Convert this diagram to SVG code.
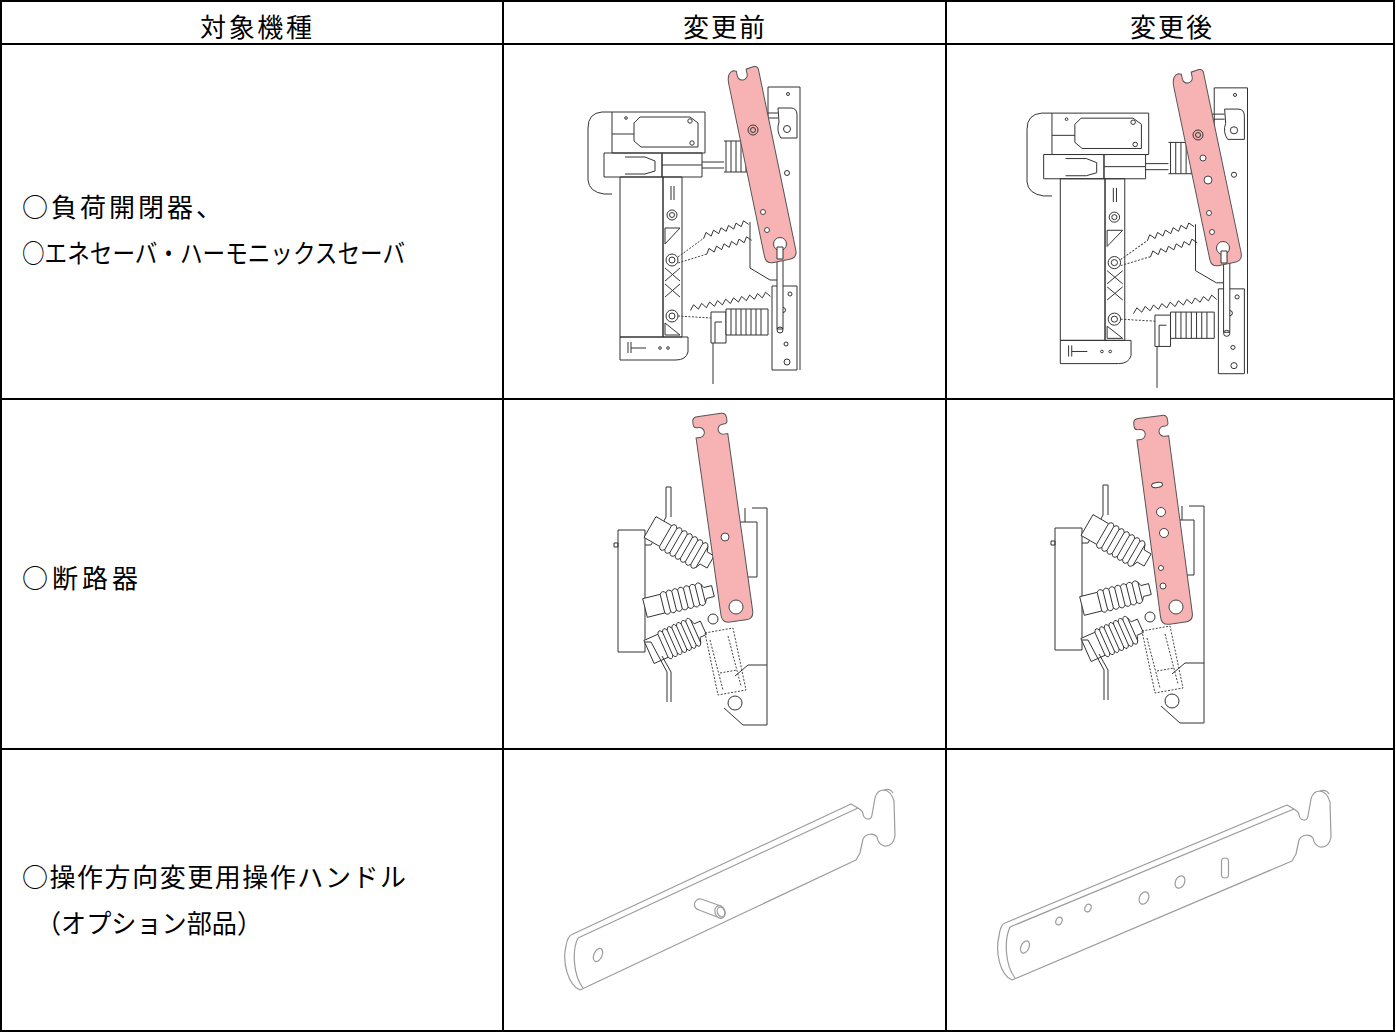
<svg xmlns="http://www.w3.org/2000/svg" xmlns:xlink="http://www.w3.org/1999/xlink" width="1396" height="1033" viewBox="0 0 1396 1033">
<style>
.grid{fill:none;stroke:#000;stroke-width:2}
.t{font-family:"Noto Sans CJK JP","Noto Sans",sans-serif;fill:#000}
.th{font-size:26px;text-anchor:middle}
.tb{font-size:26px}
.m{fill:none;stroke:#333;stroke-width:1;vector-effect:non-scaling-stroke}
.mw{fill:#fff;stroke:#333;stroke-width:1;vector-effect:non-scaling-stroke}
.d{fill:none;stroke:#444;stroke-width:1;stroke-dasharray:2 1.5}
.h{fill:#f7b3b3;stroke:#555;stroke-width:1}
.hole{fill:#fff;stroke:#444;stroke-width:1}
.iso{fill:none;stroke:#9c9c9c;stroke-width:1.2;stroke-linejoin:round}
</style>
<defs>
  <path id="zig1" class="m" d="M703.7,238.4 L706,232.4 L711.2,236.1 L713.5,230.1 L718.7,233.7 L721,227.8 L726.2,231.4 L728.5,225.4 L733.7,229.1 L736,223.1 L741.2,226.7 L743.5,220.8 L748.7,224.4"/>
  <path id="handle1" class="h" d="M-16,188 L-16,12 Q-16,1 -9,0 L-6,1 L-6,6 A5 5 0 0 0 4,6 L4,1 L12,0 Q16,0 16,4 L16,188 Q16,196 8,196 L-8,196 Q-16,196 -16,188 Z"/>
  <path id="handle2" class="h" d="M-17,5 Q-17,0 -12,0 L12,0 Q17,0 17,5 L17,8 Q17,11 13,11 L12,11 A5 5 0 0 0 12,21 L16,21 L16,200 Q16,208 8,208 L-8,208 Q-16,208 -16,200 L-16,21 L-12,21 A5 5 0 0 0 -12,11 L-13,11 Q-17,11 -17,8 Z"/>
  <g id="bellows">
    <path class="mw" d="M0,-12 L18,-12 q3,-5 6,0 q3,-5 6,0 q3,-5 6,0 q3,-5 6,0 q3,-5 6,0 q3,-5 6,0 q3,-5 6,0 L62,-7 L70,-7 L70,7 L62,7 L60,12 q-3,5 -6,0 q-3,5 -6,0 q-3,5 -6,0 q-3,5 -6,0 q-3,5 -6,0 q-3,5 -6,0 q-3,5 -6,0 L0,12 Z"/>
    <path class="m" d="M18,-12 L18,12 M24,-12 L24,12 M30,-12 L30,12 M36,-12 L36,12 M42,-12 L42,12 M48,-12 L48,12 M54,-12 L54,12 M60,-12 L60,12"/>
  </g>
  <g id="mech1">
    <path class="m" d="M612,112 L602,112 Q588,113 588,128 L588,180 Q589,192 604,194 L612,194"/>
    <rect class="m" x="612" y="112" width="93" height="41"/>
    <path class="m" d="M640,117 L690,117 L698,123 L698,147 L641,147 L634,141 L634,123 Z"/>
    <line class="m" x1="612" y1="134" x2="634" y2="134"/>
    <circle class="m" cx="626" cy="118" r="1.3"/>
    <circle class="m" cx="690" cy="121" r="2.2"/>
    <circle class="m" cx="692" cy="143" r="2.2"/>
    <rect class="m" x="604" y="153" width="58" height="24"/>
    <path class="m" d="M625,157 L645,157 L655,161 L655,171 L645,174 L625,174"/>
    <rect class="m" x="662" y="153" width="40" height="24"/>
    <line class="m" x1="662" y1="165" x2="702" y2="165"/>
    <path class="m" d="M702,162 L724,162 M702,168 L724,168"/>
    <path class="m" d="M724,141 L747,141 M724,172 L747,172 M726,141 L726,172 M731,141 L731,172 M736,141 L736,172 M741,141 L741,172 M746,141 L746,172"/>
    <rect class="m" x="620" y="177" width="43" height="160"/>
    <rect class="m" x="663" y="177" width="19" height="160"/>
    <path class="m" d="M671,186 L671,200 M674,186 L674,200"/>
    <circle class="m" cx="672" cy="215" r="5"/><circle class="m" cx="672" cy="215" r="2.5"/>
    <path class="m" d="M665,228 L680,228 L665,244 Z"/>
    <circle class="m" cx="672" cy="260" r="6"/><circle class="m" cx="672" cy="260" r="3"/>
    <path class="m" d="M665,268 L680,281 M680,268 L665,281 M665,284 L680,297 M680,284 L665,297"/>
    <circle class="m" cx="672" cy="316" r="6"/><circle class="m" cx="672" cy="316" r="3"/>
    <path class="m" d="M665,323 L680,335 L665,335 Z"/>
    <path class="m" d="M620,337 L688,337 L688,352 Q686,360 676,360 L620,360 Z"/>
    <path class="m" d="M628,342 L628,353 M631,342 L631,353 M631,348 L646,348"/>
    <circle class="m" cx="660" cy="348" r="1.3"/><circle class="m" cx="668" cy="348" r="1.3"/>
    <path class="d" d="M678,257 L704,238 M678,263 L707,254 M678,316 L711,318"/>
    <use xlink:href="#zig1"/>
    <use xlink:href="#zig1" transform="translate(3,16)"/>
    <path class="m" d="M690.4,310.5 L693.6,304.8 L698.4,309.1 L701.6,303.4 L706.4,307.7 L709.6,302 L714.4,306.3 L717.6,300.6 L722.4,304.9 L725.6,299.2 L730.4,303.5 L733.6,297.8 L738.4,302.1 L741.6,296.4 L746.4,300.7 L749.6,295 L754.4,299.3 L757.6,293.6 L762.4,297.9 L765.6,292.2 L770.4,296.5"/>
    <path class="mw" d="M711,343 L711,312 L726,312 L726,343 Z"/>
    <path class="m" d="M715,343 L715,322 L722,322"/>
    <path class="mw" d="M726,309 L768,309 L768,335 L726,335 Z"/>
    <path class="m" d="M731,309 L731,335 M736,309 L736,335 M741,309 L741,335 M746,309 L746,335 M751,309 L751,335 M756,309 L756,335 M761,309 L761,335"/>
    <line class="m" x1="713" y1="343" x2="713" y2="384"/>
    <path class="m" d="M768,87 L800,87 L800,370 M768,87 L768,250"/>
    <circle class="m" cx="788" cy="94" r="1.5"/>
    <path class="m" d="M778,108 L791,108 Q797,108 797,115 L797,138 L781,138 Q776,131 779,122 Z"/>
    <circle class="m" cx="787" cy="129" r="3.5"/>
    <path class="m" d="M757,113 L778,113 M757,118 L778,118"/>
    <circle class="m" cx="787" cy="173" r="2.5"/>
    <path class="m" d="M750,222 L750,268 L770,280 L778,280"/>
    <rect class="mw" x="772" y="286" width="25" height="84"/>
    <circle class="m" cx="790" cy="294" r="2"/>
    <circle class="m" cx="783" cy="310" r="2.5"/>
    <circle class="m" cx="786" cy="344" r="2"/>
    <circle class="m" cx="787" cy="362" r="3"/>
    <rect class="mw" x="777" y="243" width="6" height="86"/>
    <circle class="m" cx="780" cy="330" r="3"/>
  </g>
  <g id="mech2">
    <rect class="m" x="618" y="530" width="27" height="122"/>
    <path class="m" d="M614,543 L618,543 L618,547 L614,547 Z"/>
    <path class="m" d="M645,545 L651,545 L666,517 L666,487 L671,487 L671,517"/>
    <use xlink:href="#bellows" transform="translate(650,527) rotate(30)"/>
    <use xlink:href="#bellows" transform="translate(645,608) rotate(-14) scale(1,0.8)"/>
    <use xlink:href="#bellows" transform="translate(649,652) rotate(-24) scale(0.85,1.05)"/>
    <path class="m" d="M645,642 L651,642 L667,672 L667,702 M671,702 L671,672 L662,656"/>
    <path class="m" d="M752,508 L767,508 L767,725 L743,725 L724,708 M767,665 L748,665 L735,676"/>
    <rect class="m" x="738" y="522" width="19" height="55"/>
    <path class="m" d="M745,508 L745,522"/>
    <path class="d" d="M705,633 L733,628 L746,690 L718,695 Z M710,640 L723,690 M728,636 L741,686 M720,673 L737,670"/>
    <circle class="m" cx="713" cy="619" r="5"/>
    <circle class="m" cx="735" cy="703" r="7"/>
  </g>
</defs>

<g id="table">
  <rect class="grid" x="1" y="1" width="1393" height="1030"/>
  <path class="grid" d="M503,1 L503,1031 M946,1 L946,1031 M1,44 L1394,44 M1,399 L1394,399 M1,749 L1394,749"/>
</g>

<g id="header">
  <text class="t th" x="256" y="37" textLength="112" lengthAdjust="spacing">対象機種</text>
  <text class="t th" x="724" y="37" textLength="82" lengthAdjust="spacing">変更前</text>
  <text class="t th" x="1171" y="37" textLength="82" lengthAdjust="spacing">変更後</text>
</g>

<g id="row1-label">
  <text class="t tb" x="22" y="217" textLength="200" lengthAdjust="spacing">○負荷開閉器、</text>
  <text class="t tb" x="22" y="263" textLength="383" lengthAdjust="spacingAndGlyphs">○エネセーバ・ハーモニックスセーバ</text>
</g>
<g id="row2-label">
  <text class="t tb" x="22" y="588" textLength="116" lengthAdjust="spacing">○断路器</text>
</g>
<g id="row3-label">
  <text class="t tb" x="22" y="887" textLength="384" lengthAdjust="spacing">○操作方向変更用操作ハンドル</text>
  <text class="t tb" x="36" y="933" textLength="226" lengthAdjust="spacingAndGlyphs">（オプション部品）</text>
</g>

<g id="row1-before">
  <use xlink:href="#mech1"/>
  <use xlink:href="#handle1" transform="translate(742,69) rotate(-11.7)"/>
  <circle class="m" cx="753" cy="130" r="5"/>
  <circle class="m" cx="753" cy="130" r="2.5"/>
  <circle class="hole" cx="763" cy="212" r="2.5"/>
  <circle class="hole" cx="767" cy="230" r="2.5"/>
  <circle class="hole" cx="780" cy="244" r="6.5"/>
  <rect class="mw" x="777" y="247" width="6" height="12"/>
</g>

<g id="row1-after">
  <use xlink:href="#mech1" transform="matrix(1.04 0 0 1.01 415.5 0)"/>
  <use xlink:href="#handle1" transform="translate(1187,72) rotate(-11.8)"/>
  <circle class="m" cx="1198" cy="135" r="5"/>
  <circle class="m" cx="1198" cy="135" r="2.5"/>
  <circle class="hole" cx="1203" cy="158" r="3"/>
  <circle class="hole" cx="1208" cy="180" r="4"/>
  <circle class="hole" cx="1209" cy="213" r="2.5"/>
  <circle class="hole" cx="1212" cy="232" r="2.5"/>
  <circle class="hole" cx="1223" cy="248" r="6.5"/>
  <rect class="mw" x="1221" y="251" width="6" height="12"/>
</g>

<g id="row2-before">
  <use xlink:href="#mech2"/>
  <use xlink:href="#handle2" transform="translate(709,415) rotate(-8)"/>
  <circle class="hole" cx="725" cy="537" r="4"/>
  <circle class="hole" cx="736" cy="607" r="7"/>
</g>

<g id="row2-after">
  <use xlink:href="#mech2" transform="translate(437,-2)"/>
  <use xlink:href="#handle2" transform="translate(1150,417) rotate(-7.6)"/>
  <ellipse class="hole" cx="1157" cy="485" rx="5.5" ry="2.5" transform="rotate(-8 1157 485)"/>
  <circle class="hole" cx="1161" cy="512" r="4.5"/>
  <circle class="hole" cx="1164" cy="533" r="4.5"/>
  <circle class="hole" cx="1161" cy="568" r="2.5"/>
  <circle class="hole" cx="1163" cy="586" r="3"/>
  <circle class="hole" cx="1176" cy="607" r="7"/>
</g>

<g id="row3-before">
  <path class="iso" d="M573,934 L851,804 L858,808 Q863,811 863,814 C864,820 871,821 872,815 L875,798 Q877,790 884,790 Q891,791 894,801 L895,836 Q893,847 884,846 Q878,844 877,837 C874,833 866,833 863,839 L860,853 L856,860 L580,990 C568,985 562,962 566,946 C567,939 570,935 573,934 Z"/>
  <path class="iso" d="M578,938 L858,808 M578,938 C572,950 573,975 583,988 M884,790 Q890,788 893,793"/>
  <ellipse class="iso" cx="598" cy="955" rx="4" ry="7" transform="rotate(25 598 955)"/>
  <path class="iso" d="M701,899 L721,906 M699,910 L717,917 M701,899 A5.5 5.5 0 0 0 699,910"/>
  <ellipse class="iso" cx="720" cy="912" rx="5" ry="6.5" transform="rotate(-20 720 912)"/>
  <ellipse class="iso" cx="721" cy="912" rx="3.6" ry="5" transform="rotate(-20 721 912)"/>
</g>

<g id="row3-after">
  <path class="iso" d="M1005,923 L1287,805 L1294,809 Q1299,812 1299,815 C1300,821 1307,822 1308,816 L1311,799 Q1313,791 1320,791 Q1327,792 1330,802 L1331,837 Q1329,848 1320,847 Q1314,845 1313,838 C1310,834 1302,834 1299,840 L1296,854 L1292,861 L1012,980 C1000,975 995,952 999,936 C1000,928 1002,924 1005,923 Z"/>
  <path class="iso" d="M1010,927 L1294,809 M1010,927 C1004,940 1005,965 1015,978 M1320,791 Q1326,789 1329,794"/>
  <ellipse class="iso" cx="1025" cy="947" rx="4" ry="6.5" transform="rotate(25 1025 947)"/>
  <ellipse class="iso" cx="1059" cy="921" rx="3" ry="4" transform="rotate(25 1059 921)"/>
  <ellipse class="iso" cx="1088" cy="908" rx="3" ry="4" transform="rotate(25 1088 908)"/>
  <ellipse class="iso" cx="1144" cy="898" rx="4.5" ry="6.5" transform="rotate(25 1144 898)"/>
  <ellipse class="iso" cx="1180" cy="882" rx="4.5" ry="6.5" transform="rotate(25 1180 882)"/>
  <rect class="iso" x="1221.5" y="858" width="7" height="20" rx="3.5"/>
</g>
</svg>
